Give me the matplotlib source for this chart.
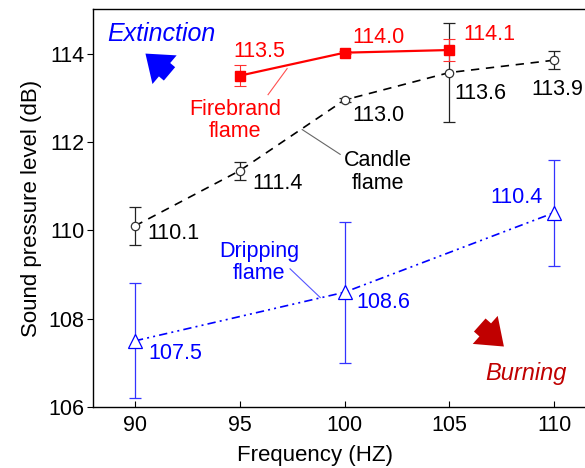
import matplotlib.pyplot as plt
from matplotlib.patches import FancyArrowPatch

plt.rcParams['font.family'] = ['Liberation Sans', 'DejaVu Sans']

# frequencies (Hz)
freq_all = [90, 95, 100, 105, 110]
freq_red = [95, 100, 105]
freq_blue = [90, 100, 110]

# sound pressure level (dB) and error half-widths
candle = [110.1, 111.35, 112.95, 113.57, 113.85]
candle_err = [0.42, 0.2, 0.05, 1.12, 0.21]
candle_lbl = ["110.1", "111.4", "113.0", "113.6", "113.9"]

firebrand = [113.5, 114.02, 114.08]
firebrand_err = [0.24, 0.04, 0.25]
firebrand_lbl = ["113.5", "114.0", "114.1"]

dripping = [107.5, 108.6, 110.4]
dripping_err = [1.3, 1.6, 1.2]
dripping_lbl = ["107.5", "108.6", "110.4"]

# label offsets in pixels from each point
candle_off = [(38, -8), (38, -13), (34, -16), (31, -21), (3, -29)]
firebrand_off = [(20, 24), (34, 15), (40, 16)]
dripping_off = [(40, -13), (39, -10), (-38, 15)]

fs = 15.5
fig = plt.figure(figsize=(5.85, 4.68), dpi=100)
ax = fig.add_axes([0.159, 0.130, 0.86, 0.85])

# candle flame
ax.errorbar(freq_all, candle, yerr=candle_err, fmt='none', ecolor='#222222',
            elinewidth=0.9, capsize=4.5, capthick=0.9, zorder=2)
ax.plot(freq_all, candle, color='black', lw=1.2, ls=(0, (5, 4)), marker='o',
        ms=6, mfc='white', mec='#333333', mew=0.9, zorder=3)

# firebrand flame
ax.errorbar(freq_red, firebrand, yerr=firebrand_err, fmt='none', ecolor='#ff3030',
            elinewidth=0.8, capsize=4.5, capthick=0.8, zorder=2)
ax.plot(freq_red, firebrand, color='red', lw=1.6, marker='s', ms=7,
        mfc='red', mec='red', zorder=4)

# dripping flame
ax.errorbar(freq_blue, dripping, yerr=dripping_err, fmt='none', ecolor='#3333ff',
            elinewidth=0.9, capsize=4.5, capthick=0.9, zorder=2)
ax.plot(freq_blue, dripping, color='blue', lw=1.2, ls=(0, (5, 2.5, 1.2, 2.5, 1.2, 2.5)),
        marker='^', ms=10, mfc='white', mec='blue', mew=0.9, zorder=3)

for x, y, s, o in zip(freq_all, candle, candle_lbl, candle_off):
    ax.annotate(s, (x, y), xytext=o, textcoords='offset pixels', ha='center',
                va='center', fontsize=fs, color='black')
for x, y, s, o in zip(freq_red, firebrand, firebrand_lbl, firebrand_off):
    ax.annotate(s, (x, y), xytext=o, textcoords='offset pixels', ha='center',
                va='center', fontsize=fs, color='red')
for x, y, s, o in zip(freq_blue, dripping, dripping_lbl, dripping_off):
    ax.annotate(s, (x, y), xytext=o, textcoords='offset pixels', ha='center',
                va='center', fontsize=fs, color='blue')

# series names with leader lines
ax.text(94.78, 112.49, "Firebrand\nflame", color='red', fontsize=fs, ha='center',
        va='center', linespacing=1.1)
ax.plot([96.35, 97.26], [113.07, 113.66], color='#ff5050', lw=0.8)
ax.text(101.6, 111.32, "Candle\nflame", color='black', fontsize=fs, ha='center',
        va='center', linespacing=1.1)
ax.plot([97.98, 99.79], [112.28, 111.72], color='#666666', lw=0.8)
ax.text(95.92, 109.27, "Dripping\nflame", color='blue', fontsize=fs, ha='center',
        va='center', linespacing=1.1)
ax.plot([97.4, 98.84], [109.13, 108.48], color='#5555ff', lw=0.8)

# extinction / burning arrows
arrow = 'simple,head_length=1.0,head_width=1.5,tail_width=0.7'
ax.text(88.67, 114.45, "Extinction", color='blue', fontsize=18, style='italic',
        ha='left', va='center')
ax.add_patch(FancyArrowPatch((91.75, 113.5), (90.4, 114.04), arrowstyle=arrow,
                             mutation_scale=18, color='blue', lw=0))
ax.text(106.71, 106.77, "Burning", color='#c00000', fontsize=17, style='italic',
        ha='left', va='center')
ax.add_patch(FancyArrowPatch((106.35, 107.9), (107.7, 107.33), arrowstyle=arrow,
                             mutation_scale=18, color='#c00000', lw=0))

ax.set_xlim(88, 112)
ax.set_ylim(106, 115)
ax.set_xticks(freq_all)
ax.set_yticks([106, 108, 110, 112, 114])
ax.tick_params(axis='x', direction='in', length=4, labelsize=fs, pad=6)
ax.tick_params(axis='y', direction='out', length=4, labelsize=fs, pad=2)
ax.set_xlabel("Frequency (HZ)", fontsize=16)
ax.xaxis.set_label_coords(0.441, -0.095)
ax.set_ylabel("Sound pressure level (dB)", fontsize=16, labelpad=5)
ax.spines['right'].set_visible(False)
for s in ax.spines.values():
    s.set_linewidth(1.0)

fig.savefig("out.png", dpi=100)
